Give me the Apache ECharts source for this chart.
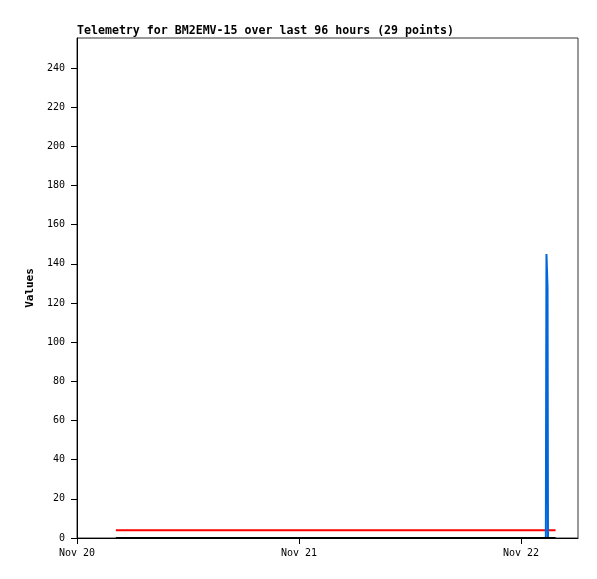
<!DOCTYPE html>
<html>
<head>
<meta charset="utf-8">
<script src="https://cdn.jsdelivr.net/npm/echarts@6/dist/echarts.min.js"></script>
<style>
html,body{margin:0;padding:0;background:#fff;}
#chart{width:597px;height:579px;}
</style>
</head>
<body>
<div id="chart"></div>
<script>
var titleText = "Telemetry for BM2EMV-15 over last 96 hours (29 points)";
var startTime = "2024-11-20T00:00:00Z";
var times = [
  "2024-11-20T04:12:00Z","2024-11-20T05:55:00Z","2024-11-20T07:40:00Z","2024-11-20T09:25:00Z",
  "2024-11-20T11:10:00Z","2024-11-20T12:55:00Z","2024-11-20T14:40:00Z","2024-11-20T16:25:00Z",
  "2024-11-20T18:10:00Z","2024-11-20T19:55:00Z","2024-11-20T21:40:00Z","2024-11-20T23:25:00Z",
  "2024-11-21T01:10:00Z","2024-11-21T02:55:00Z","2024-11-21T04:40:00Z","2024-11-21T06:25:00Z",
  "2024-11-21T08:10:00Z","2024-11-21T09:55:00Z","2024-11-21T11:40:00Z","2024-11-21T13:25:00Z",
  "2024-11-21T15:10:00Z","2024-11-21T16:55:00Z","2024-11-21T18:40:00Z","2024-11-21T22:10:00Z",
  "2024-11-22T02:41:00Z","2024-11-22T02:45:00Z","2024-11-22T02:52:00Z","2024-11-22T02:55:00Z",
  "2024-11-22T03:44:00Z"
];
var redValues   = [4,4,4,4,4,4,4,4,4,4,4,4,4,4,4,4,4,4,4,4,4,4,4,4,4,4,4,4,4];
var blackValues = [0,0,0,0,0,0,0,0,0,0,0,0,0,0,0,0,0,0,0,0,0,0,0,0,0,0,0,0,0];
var blueValues  = [0,0,0,0,0,0,0,0,0,0,0,0,0,0,0,0,0,0,0,0,0,0,0,0,0,145,128,0,0];
var xTickLabels = ["Nov 20","Nov 21","Nov 22"];
var xMaxHours = 54.16;
var yMax = 255.3;

var t0 = Date.parse(startTime);
function hrs(s){ return (Date.parse(s) - t0) / 3600000; }
function pairs(vals){ return times.map(function(t,i){ return [hrs(t), vals[i]]; }); }

var mono = "DejaVu Sans Mono";
var chart = echarts.init(document.getElementById('chart'), null, {renderer:'canvas'});
chart.setOption({
  animation:false,
  backgroundColor:'#ffffff',
  title:{
    text:titleText, left:72, top:20,
    textStyle:{fontFamily:mono, fontSize:11.6, fontWeight:'bold', color:'#000'}
  },
  grid:{left:77, right:19, top:38, bottom:41, show:true, borderColor:'#333', borderWidth:1},
  xAxis:{
    type:'value', min:0, max:xMaxHours, interval:24,
    axisLine:{show:true, lineStyle:{color:'#000', width:1}},
    axisTick:{show:true, length:6, inside:false, lineStyle:{color:'#000'}},
    splitLine:{show:false},
    axisLabel:{
      showMaxLabel:false, margin:10,
      fontFamily:mono, fontSize:10, color:'#000',
      formatter:function(v){ var i = Math.round(v/24); return (Math.abs(v-i*24)<0.01 && xTickLabels[i]) ? xTickLabels[i] : ''; }
    }
  },
  yAxis:{
    type:'value', min:0, max:yMax, interval:20,
    name:'Values', nameLocation:'middle', nameGap:40, nameRotate:90,
    nameTextStyle:{fontFamily:mono, fontSize:11, fontWeight:'bold', color:'#000'},
    axisLine:{show:true, lineStyle:{color:'#000', width:1}},
    axisTick:{show:true, length:6, lineStyle:{color:'#000'}},
    splitLine:{show:false},
    axisLabel:{showMaxLabel:false, margin:12, fontFamily:mono, fontSize:10, color:'#000'}
  },
  series:[
    {name:'red', type:'line', data:pairs(redValues), showSymbol:false, z:1,
     lineStyle:{color:'#ff0000', width:2}, itemStyle:{color:'#ff0000'}},
    {name:'blue', type:'line', data:pairs(blueValues), showSymbol:false, z:2,
     lineStyle:{color:'#0066dd', width:2}, itemStyle:{color:'#0066dd'}},
    {name:'black', type:'line', data:pairs(blackValues), showSymbol:false, z:3,
     lineStyle:{color:'#000000', width:2}, itemStyle:{color:'#000'}}
  ]
});
</script>
</body>
</html>
